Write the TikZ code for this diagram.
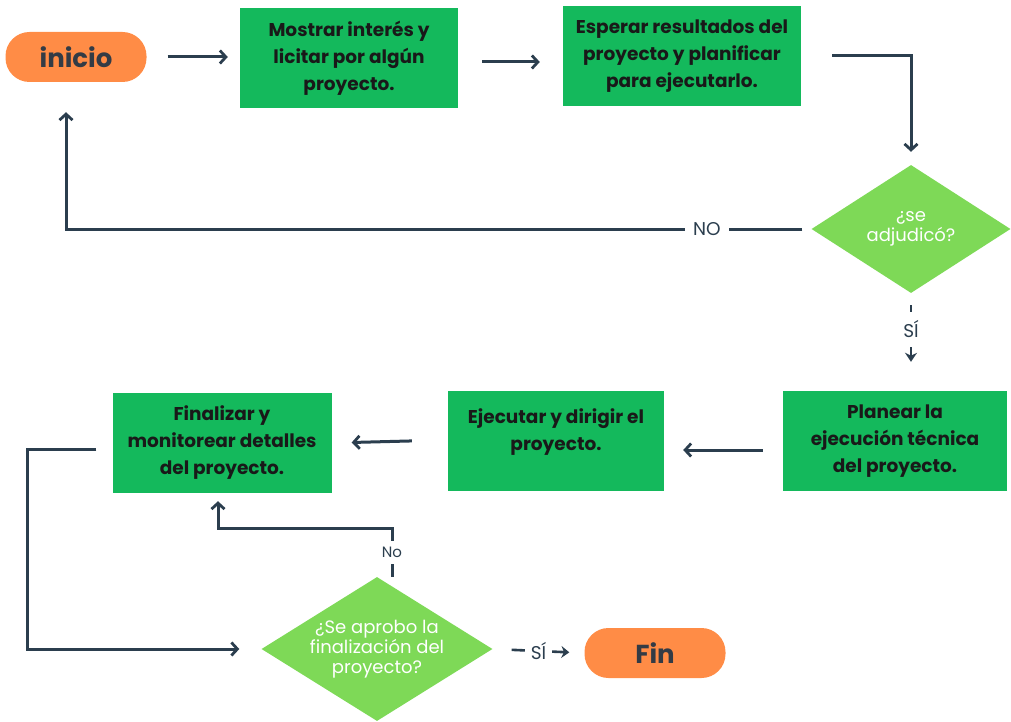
\documentclass[tikz,border=0pt]{standalone}
\usepackage{fontspec}
\setmainfont{Poppins}
\definecolor{pill}{HTML}{FF8C46}
\definecolor{boxgreen}{HTML}{14B95C}
\definecolor{decgreen}{HTML}{7ED957}
\definecolor{linecol}{HTML}{2B3E4E}
\definecolor{inkdark}{HTML}{333B45}
\usetikzlibrary{arrows.meta, shapes.geometric, positioning}

\begin{document}
\begin{tikzpicture}[
            x=1pt, y=-1pt,
            terminal/.style={fill=pill, rounded corners=24pt,
                        minimum width=141pt, minimum height=50pt,
                        font=\fontsize{26}{30}\selectfont\bfseries, text=inkdark},
            stepbox/.style={fill=boxgreen, minimum width=218pt, minimum height=100pt,
                        font=\fontsize{18.5}{27}\selectfont\bfseries, text=black!90,
                        align=center},
            decision/.style={diamond, fill=decgreen, inner xsep=-15pt, inner ysep=-10pt,
                        font=\fontsize{18}{20}\selectfont, text=white, align=center},
            arr/.style={-{Straight Barb[length=6pt,width=13pt,line width=2.8pt]},
                        line width=3pt, color=linecol},
            lbl/.style={fill=white, font=\fontsize{18.5}{20}\selectfont, text=linecol,
                        inner xsep=8pt, inner ysep=4pt}
          ]
          \useasboundingbox (0,0) rectangle (1011,722);
          % top row
          \node[terminal] (inicio) at (76,57) {inicio};
          \node[stepbox] (mostrar) at (349,58) {Mostrar interés y\\licitar por algún\\proyecto.};
          \node[stepbox, minimum width=238pt] (esperar) at (682,56) {Esperar resultados del\\proyecto y planificar\\para ejecutarlo.};
          \node[decision, minimum width=199pt, minimum height=128pt] (adj) at (911,229) {¿se\\adjudicó?};
          % middle row
          \node[stepbox, minimum width=224pt] (planear) at (895,441) {Planear la\\ejecución técnica\\del proyecto.};
          \node[stepbox, minimum width=216pt] (ejecutar) at (556,441) {Ejecutar y dirigir el\\proyecto.\\[-4pt]};
          \node[stepbox, minimum width=219pt] (finalizar) at (222,443) {Finalizar y\\monitorear detalles\\del proyecto.};
          % bottom row
          \node[decision, minimum width=231pt, minimum height=144pt] (apro) at (377,649) {¿Se aprobo la\\finalización del\\proyecto?};
          \node[terminal] (fin) at (655,653) {Fin};
          \coordinate (nobend) at (392,528);

          \draw[arr, shorten <=21pt, shorten >=12pt] (inicio.east) -- (inicio.east -| mostrar.west);
          \draw[arr, shorten <=24pt, shorten >=23pt] ([yshift=-4pt]mostrar.east) -- ([yshift=-4pt]esperar.west |- mostrar.east);
          \draw[arr, shorten <=31pt, shorten >=13pt] (esperar.east) -| (adj.north);
          \draw[arr, shorten <=9pt, shorten >=30pt] (adj.west) -| ([xshift=-10pt]inicio.south)
                node[lbl, pos=0.07, inner ysep=2pt] {NO};
          \draw[arr, -{Stealth[length=9pt,width=12pt]}, line width=2pt, shorten <=12pt, shorten >=29pt]
                (adj.south) -- (adj.south |- planear.north) node[lbl, pos=0.37, inner ysep=9pt] {SÍ};
          \draw[arr, shorten <=20pt, shorten >=19pt] ([yshift=-9pt]planear.west) -- ([yshift=-9pt]ejecutar.east);
          \draw[arr, shorten <=36pt, shorten >=20pt] ([yshift=1pt]ejecutar.west) -- (finalizar.east);
          \draw[arr, shorten <=16pt, shorten >=22pt] ([yshift=-6pt]finalizar.west) -- ++(-85,0) |- (apro.west);
          \draw[arr, shorten >=8pt] ([xshift=15pt]apro.north) -- (nobend)
                node[lbl, midway, font=\fontsize{15}{16}\selectfont, inner xsep=3pt, inner ysep=6pt] {No}
                -| ([xshift=-4pt]finalizar.south);
          \draw[arr, -{Stealth[length=8pt,width=12pt]}, line width=2.6pt, shorten <=19pt, shorten >=15pt]
                (apro.east) -- (fin.west) node[lbl, midway, inner xsep=6pt] {SÍ};
        \end{tikzpicture}
\end{document}
